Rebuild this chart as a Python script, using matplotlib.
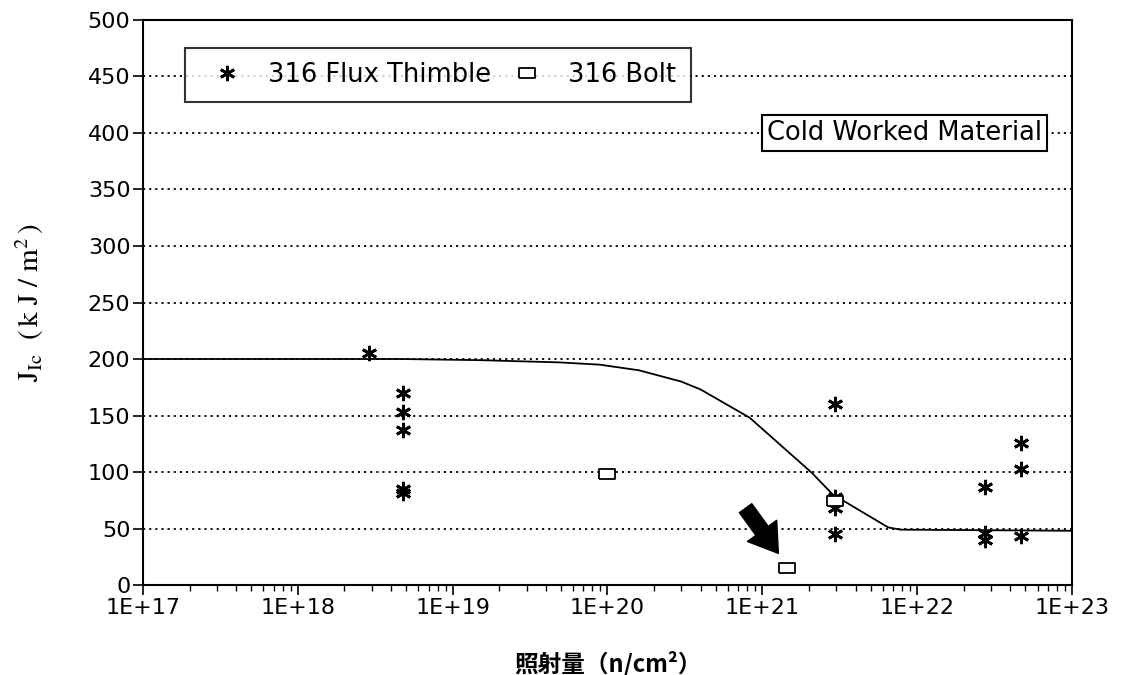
import numpy as np
import matplotlib
matplotlib.use("Agg")
import matplotlib.pyplot as plt
from matplotlib.ticker import FixedLocator, FixedFormatter, LogLocator, NullFormatter

# ---------------------------
# data
# ---------------------------
thimble_x = [2.9e18, 4.8e18, 4.8e18, 4.8e18, 4.8e18, 4.8e18,
             2.95e21, 2.95e21, 2.95e21, 2.95e21,
             2.75e22, 2.75e22, 2.75e22,
             4.7e22, 4.7e22, 4.7e22]
thimble_y = [205, 170, 153, 137, 85, 81,
             160, 78, 68, 45,
             87, 46, 40,
             126, 103, 43]

bolt_x = [1.0e20, 1.45e21, 2.95e21]
bolt_y = [98, 15, 74]

curve_x = [1e17, 4.6e18, 1.5e19, 4.9e19, 8.9e19, 1.6e20, 3.0e20, 4.0e20,
           8.3e20, 2.1e21, 2.95e21, 3.3e21, 6.5e21, 7.8e21, 1e23]
curve_y = [200, 200, 199, 197, 195, 190, 180, 173,
           148, 99, 78, 75, 51, 49, 48]

xtick_vals = [1e17, 1e18, 1e19, 1e20, 1e21, 1e22, 1e23]
xtick_labels = ["1E+17", "1E+18", "1E+19", "1E+20", "1E+21", "1E+22", "1E+23"]
ytick_vals = [0, 50, 100, 150, 200, 250, 300, 350, 400, 450, 500]

# arrow pointing at the low bolt point
arrow_tail = (7.8e20, 68)
arrow_head = (1.27e21, 28)

# ---------------------------
# plot
# ---------------------------
plt.rcParams['font.family'] = ['DejaVu Sans']
plt.rcParams['mathtext.fontset'] = 'stix'
fig = plt.figure(figsize=(11.24, 6.75), dpi=100)
ax = fig.add_axes([0.1272, 0.1333, 0.8265, 0.8371])

ax.set_xscale('log')
ax.set_xlim(1e17, 1e23)
ax.set_ylim(0, 500)

# dotted horizontal grid
for yv in ytick_vals[1:-1]:
    ax.axhline(yv, color='black', linestyle=(0, (1.2, 2.2)), linewidth=1.3, zorder=1)

ax.plot(curve_x, curve_y, color='black', linewidth=1.3, zorder=2)

asterisk = (6, 2, 0)
rect = [(-1, -0.6), (1, -0.6), (1, 0.6), (-1, 0.6), (-1, -0.6)]
ax.plot(thimble_x, thimble_y, linestyle='none', marker=asterisk, markersize=11,
        markeredgewidth=2.0, color='black', label='316 Flux Thimble', zorder=3)
ax.plot(bolt_x, bolt_y, linestyle='none', marker=rect, markersize=12,
        markeredgewidth=1.3, markerfacecolor='white', markeredgecolor='black',
        label='316 Bolt', zorder=3)

ax.annotate('', xy=arrow_head, xytext=arrow_tail,
            arrowprops=dict(arrowstyle='simple,head_width=1.3,head_length=1.0,tail_width=0.55',
                            color='black', mutation_scale=20, shrinkA=0, shrinkB=0))

# axes / ticks
ax.xaxis.set_major_locator(FixedLocator(xtick_vals))
ax.xaxis.set_major_formatter(FixedFormatter(xtick_labels))
ax.xaxis.set_minor_locator(LogLocator(base=10, subs=np.arange(2, 10), numticks=20))
ax.xaxis.set_minor_formatter(NullFormatter())
ax.set_yticks(ytick_vals)
ax.tick_params(axis='both', which='major', direction='out', length=7, width=1.2,
               labelsize=16, pad=2)
ax.tick_params(axis='x', which='minor', direction='out', length=4, width=1.0)
for s in ax.spines.values():
    s.set_linewidth(1.5)

leg = ax.legend(loc='upper left', bbox_to_anchor=(0.045, 0.950), ncol=2,
                fontsize=18.5, frameon=True, fancybox=False, edgecolor='black',
                borderpad=0.55, handlelength=2.2, handletextpad=0.5,
                columnspacing=0.3, borderaxespad=0)
leg.get_frame().set_linewidth(1.5)

ax.text(0.820, 0.800, 'Cold Worked Material', transform=ax.transAxes,
        ha='center', va='center', fontsize=18.5, zorder=4,
        bbox=dict(boxstyle='square,pad=0.2', facecolor='white', edgecolor='black',
                  linewidth=1.5))

ax.set_ylabel(r'$\mathrm{J_{Ic}\ \ (\,k\ J\ /\ m^{2}\,)}$', fontsize=21, labelpad=30)
ax.set_xlabel('照射量（n/cm²）', fontsize=17, labelpad=24,
              family=['Noto Sans CJK JP', 'DejaVu Sans'], fontweight='bold')

fig.savefig('out.png', dpi=100)
